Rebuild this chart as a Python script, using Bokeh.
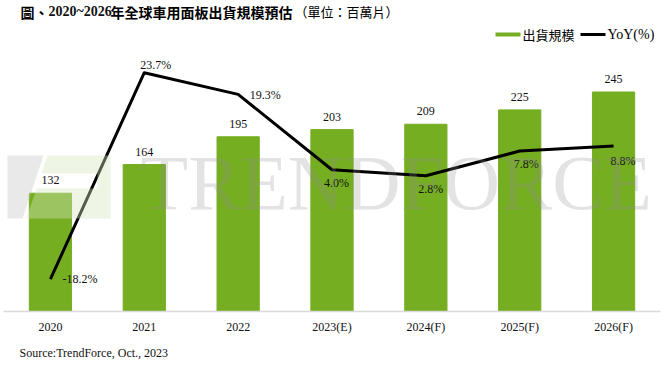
from bokeh.plotting import figure
from bokeh.models import (FactorRange, Range1d, Label, BoxAnnotation,
                          PolyAnnotation, ColumnDataSource, Title)
from bokeh.core.properties import value
from bokeh.embed import file_html
from bokeh.resources import INLINE

# ---- data ----
categories = ["2020", "2021", "2022", "2023(E)", "2024(F)", "2025(F)", "2026(F)"]
shipments = [132, 164, 195, 203, 209, 225, 245]
yoy = [-18.2, 23.7, 19.3, 4.0, 2.8, 7.8, 8.8]

# label placement offsets (pixels) for the YoY labels
yoy_dx = [29.5, 11.5, 27, 4.5, 5, 6.5, 9.5]
yoy_dy = [0, -8, 1, 13, 13, 13, 15]

GREEN = "#76AE22"
SERIF = "Liberation Serif"
CJK = "Noto Sans CJK TC"

src = ColumnDataSource(dict(
    cat=categories,
    ship=shipments,
    ship_lbl=[str(v) for v in shipments],
    yoy=yoy,
    yoy_lbl=[f"{v:.1f}%" for v in yoy],
    dx=yoy_dx,
    dy=yoy_dy,
))

W, H = 667, 369
FRAME_BOTTOM = 311
LEFT, RIGHT = 3, 7

p = figure(width=W, height=H, x_range=FactorRange(*categories, range_padding=0),
           y_range=Range1d(0, 347.1), output_backend="svg", toolbar_location=None,
           y_axis_location=None, title=None,
           min_border_left=LEFT, min_border_right=RIGHT, min_border_top=0,
           min_border_bottom=H - FRAME_BOTTOM)
p.extra_y_ranges = {"yoy": Range1d(-24.75, 38.34)}

p.vbar(x="cat", top="ship", width=0.45, color=GREEN, source=src)
p.line(x="cat", y="yoy", y_range_name="yoy", line_width=3, line_color="black",
       line_join="round", source=src)

p.text(x="cat", y="ship", text="ship_lbl", y_offset=-13, text_align="center",
       text_baseline="middle", text_font=value(SERIF), text_font_size="12px",
       text_color="#111111", source=src)
p.text(x="cat", y="yoy", text="yoy_lbl", x_offset="dx", y_offset="dy",
       y_range_name="yoy", text_align="center", text_baseline="middle",
       text_font=value(SERIF), text_font_size="12px", text_color="#111111",
       source=src)

p.grid.visible = False
p.outline_line_color = None
p.background_fill_color = "white"
p.border_fill_color = "white"

ax = p.xaxis[0]
ax.axis_line_color = "#d9d9d9"
ax.axis_line_width = 1.5
ax.major_tick_line_color = None
ax.minor_tick_line_color = None
ax.major_tick_out = 0
ax.major_tick_in = 0
ax.minor_tick_out = 0
ax.major_label_standoff = 8
ax.major_label_text_font = SERIF
ax.major_label_text_font_size = "12px"
ax.major_label_text_color = "#111111"

# ---- screen helpers (page pixel -> frame screen units) ----
def sy(page_y):
    return FRAME_BOTTOM - page_y

def sx(page_x):
    return page_x - LEFT

# ---- watermark (decoration) ----
logo_grey = [(7, 155), (43, 155), (22, 218), (7, 218)]
logo_green = [(47, 155), (110, 155), (110, 218), (26, 218), (36, 188), (97, 188),
              (97, 173), (41, 173)]
p.add_layout(PolyAnnotation(xs=[sx(a) for a, b in logo_grey], ys=[sy(b) for a, b in logo_grey],
                            xs_units="screen", ys_units="screen",
                            fill_color="#c8c8c8", fill_alpha=0.4, line_color=None))
p.add_layout(PolyAnnotation(xs=[sx(a) for a, b in logo_green], ys=[sy(b) for a, b in logo_green],
                            xs_units="screen", ys_units="screen",
                            fill_color="#d6e6bf", fill_alpha=0.4, line_color=None))
p.add_layout(Label(x=sx(140), y=sy(182), x_units="screen", y_units="screen",
                   text="TRENDFORCE", text_font=SERIF, text_font_size="78px",
                   text_color="#8f8f8f", text_alpha=0.25, text_baseline="alphabetic"))

# ---- title ----
def lab(x, y, text, font, size, style="normal", color="#000000", baseline="middle"):
    p.add_layout(Label(x=x, y=y, x_units="screen", y_units="screen", text=text,
                       text_font=font, text_font_size=size, text_font_style=style,
                       text_color=color, text_baseline=baseline, text_align="left"))

TY = sy(11)
lab(sx(20), TY, "圖、", CJK, "14px", "bold")
lab(sx(48), TY, "2020~2026", SERIF, "14px", "bold", "#111111")
lab(sx(110), TY, "年全球車用面板出貨規模預估", CJK, "14px", "bold")
lab(sx(294), TY, "（單位：百萬片）", CJK, "13px")

# ---- legend ----
LY = sy(34)
p.add_layout(BoxAnnotation(left=sx(495), right=sx(520), bottom=LY - 2, top=LY + 2,
                           left_units="screen", right_units="screen",
                           bottom_units="screen", top_units="screen",
                           fill_color=GREEN, fill_alpha=1, line_color=None))
p.add_layout(BoxAnnotation(left=sx(580), right=sx(605), bottom=LY - 1.5, top=LY + 1.5,
                           left_units="screen", right_units="screen",
                           bottom_units="screen", top_units="screen",
                           fill_color="black", fill_alpha=1, line_color=None))
lab(sx(522), LY, "出貨規模", CJK, "13px")
lab(sx(607), LY, "YoY(%)", SERIF, "14px")

# ---- source (below the axis) ----
src_title = Title(text="Source:TrendForce, Oct., 2023", align="left",
                  vertical_align="bottom",
                  text_font=SERIF, text_font_size="12px", text_font_style="normal",
                  text_color="#111111", offset=16, standoff=14)
p.add_layout(src_title, "below")

html = file_html(p, INLINE)
with open("out.html", "w", encoding="utf-8") as f:
    f.write(html)
